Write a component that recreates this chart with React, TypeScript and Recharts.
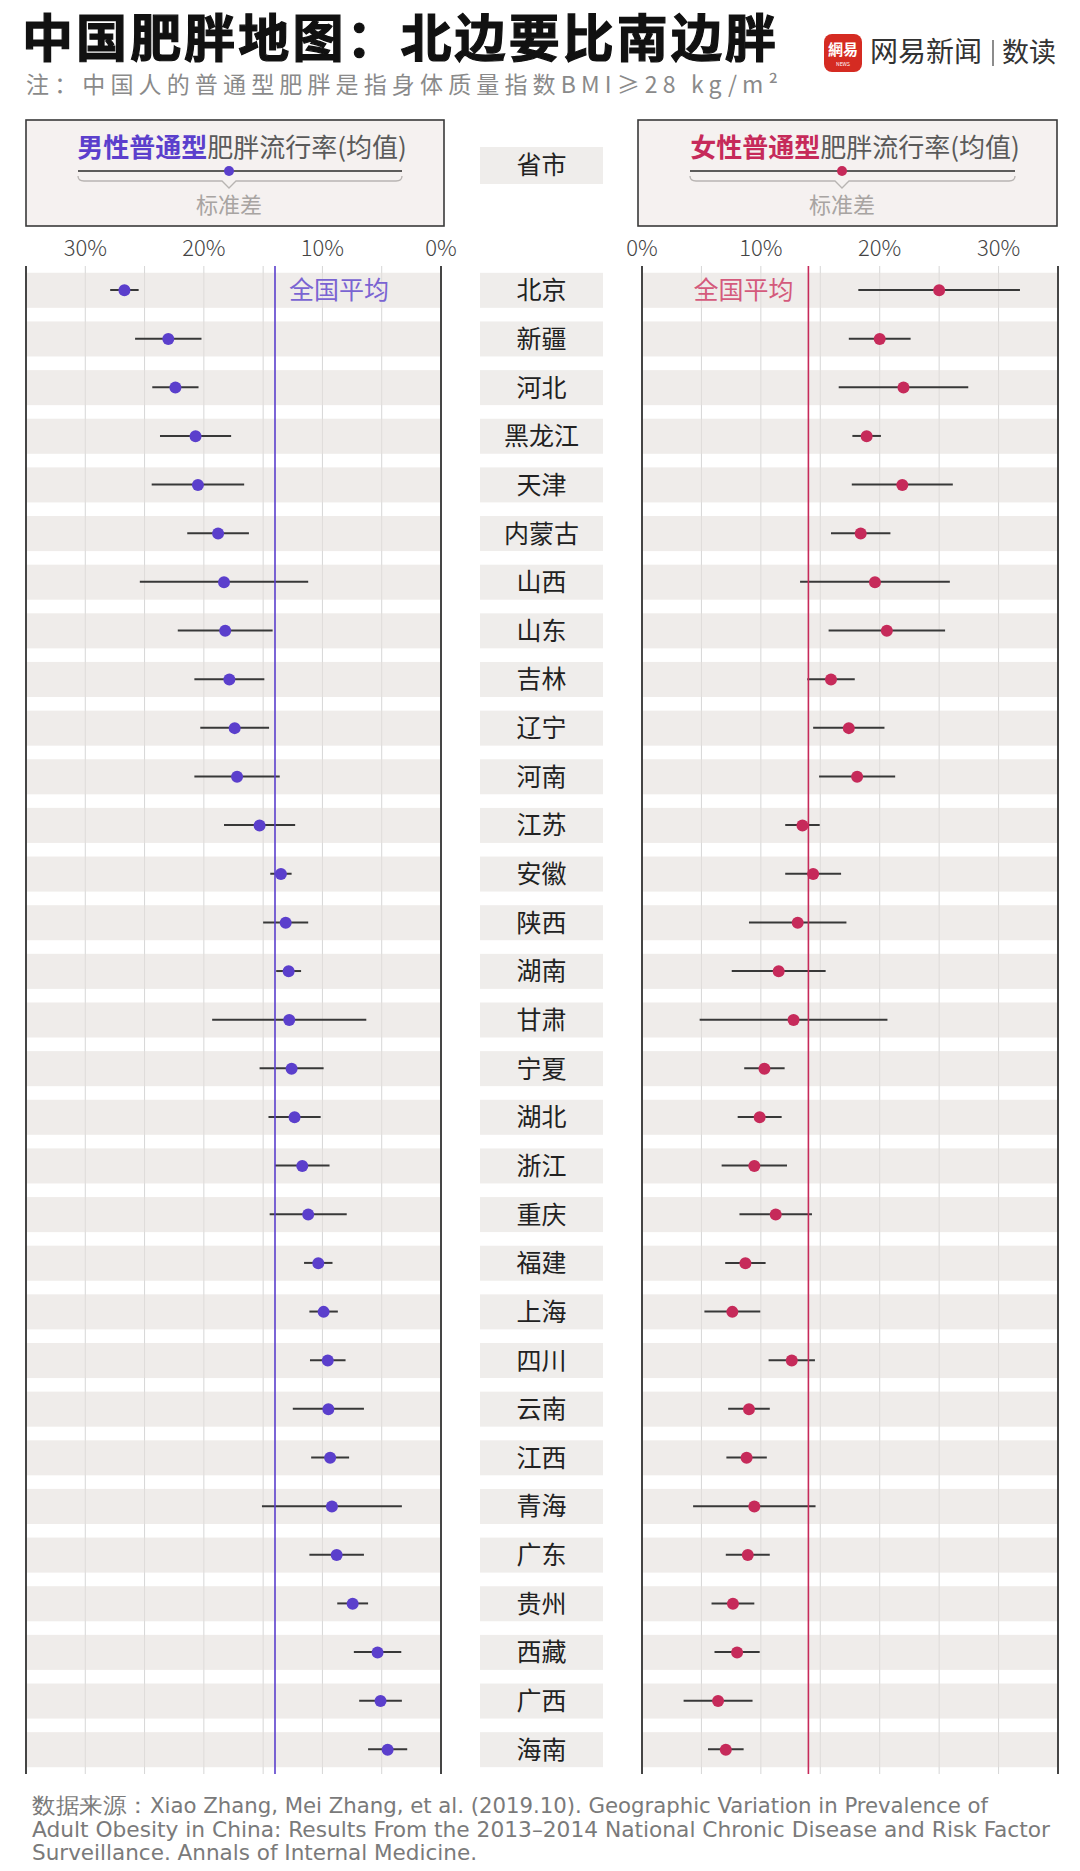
import React from 'react';
import {
  ComposedChart, Bar, Line, XAxis, YAxis, CartesianGrid, ReferenceLine, ReferenceArea,
} from 'recharts';

// ---------- data ----------
const provinces = ['北京', '新疆', '河北', '黑龙江', '天津', '内蒙古', '山西', '山东', '吉林', '辽宁', '河南', '江苏', '安徽', '陕西', '湖南', '甘肃', '宁夏', '湖北', '浙江', '重庆', '福建', '上海', '四川', '云南', '江西', '青海', '广东', '贵州', '西藏', '广西', '海南'];
const maleMean = [26.7, 23.0, 22.4, 20.7, 20.5, 18.8, 18.3, 18.2, 17.85, 17.4, 17.2, 15.3, 13.5, 13.1, 12.85, 12.8, 12.6, 12.35, 11.7, 11.2, 10.35, 9.9, 9.55, 9.5, 9.35, 9.2, 8.8, 7.45, 5.35, 5.1, 4.5];
const maleSd = [1.2, 2.8, 1.95, 3.0, 3.9, 2.6, 7.1, 4.0, 2.95, 2.9, 3.6, 3.0, 0.9, 1.9, 1.05, 6.5, 2.7, 2.2, 2.3, 3.25, 1.2, 1.2, 1.5, 3.0, 1.6, 5.9, 2.3, 1.3, 2.0, 1.8, 1.65];
const femaleMean = [25.0, 20.0, 22.0, 18.9, 21.9, 18.4, 19.6, 20.6, 15.9, 17.4, 18.1, 13.5, 14.4, 13.1, 11.5, 12.75, 10.3, 9.9, 9.45, 11.25, 8.7, 7.6, 12.6, 9.0, 8.8, 9.45, 8.9, 7.65, 8.0, 6.4, 7.05];
const femaleSd = [6.8, 2.6, 5.45, 1.2, 4.25, 2.5, 6.3, 4.9, 2.0, 3.0, 3.2, 1.45, 2.35, 4.1, 3.95, 7.9, 1.7, 1.85, 2.75, 3.05, 1.7, 2.35, 1.95, 1.75, 1.7, 5.15, 1.85, 1.8, 1.9, 2.9, 1.5];
const maleNationalAvg = 14.0;
const femaleNationalAvg = 14.0;
const xTicks = [0, 5, 10, 15, 20, 25, 30, 35];
const xDomain: [number, number] = [0, 35];

const titleText = '中国肥胖地图：北边要比南边胖';
const subtitleText = '注：中国人的普通型肥胖是指身体质量指数BMI≥28 kg/m²';
const sourceLines = [
  '数据来源：Xiao Zhang, Mei Zhang, et al. (2019.10). Geographic Variation in Prevalence of',
  'Adult Obesity in China: Results From the 2013–2014 National Chronic Disease and Risk Factor',
  'Surveillance. Annals of Internal Medicine.',
];

const rows = provinces.map((name, i) => ({
  name,
  male: maleMean[i],
  maleRange: [maleMean[i] - maleSd[i], maleMean[i] + maleSd[i]],
  female: femaleMean[i],
  femaleRange: [femaleMean[i] - femaleSd[i], femaleMean[i] + femaleSd[i]],
}));

// ---------- styles ----------
const CJK = "'Noto Sans CJK SC', 'Noto Sans', sans-serif";
const NARROW = "'Liberation Sans Narrow', 'DejaVu Sans Condensed', 'Noto Sans', sans-serif";
const PURPLE = '#5b3fcc';
const CRIMSON = '#c62a5a';
const BAND = '#e4e0dc';
const CHART_TOP = 212;
const CHART_H = 1562;
const AXIS_H = 54;

const XTick = (props: any) => {
  const { x, y, payload } = props;
  if (payload.value % 10 !== 0) return <g />;
  return (
    <text x={x} y={y - 10} textAnchor="middle" fontSize={22} fill="#444" fontFamily={CJK} fontWeight={300}>
      {payload.value}%
    </text>
  );
};

const bandShape = (p: any) => (
  <rect x={p.x} y={p.y + 6.8} width={p.width} height={Math.max(0, p.height - 13.6)} fill={BAND} fillOpacity={0.6} />
);

const YLabelTick = (props: any) => {
  const { x, y, payload } = props;
  return (
    <g>
      <rect x={x - 162} y={y - 17.5} width={123} height={35} fill="#efedeb" />
      <text x={x - 100.5} y={y + 9} textAnchor="middle" fontSize={25} fill="#222" fontFamily={CJK}>
        {payload.value}
      </text>
    </g>
  );
};

function Panel(props: { side: 'male' | 'female' }) {
  const isMale = props.side === 'male';
  const color = isMale ? PURPLE : CRIMSON;
  const avg = isMale ? maleNationalAvg : femaleNationalAvg;
  return (
    <ComposedChart
      layout="vertical"
      width={isMale ? 460 : 620}
      height={CHART_H}
      data={rows}
      margin={isMale ? { top: 0, right: 19, bottom: 0, left: 26 } : { top: 0, right: 22, bottom: 0, left: 0 }}
    >
      <CartesianGrid horizontal={false} stroke="#d6d6d6" strokeWidth={1} />
      <XAxis
        type="number"
        orientation="top"
        domain={xDomain}
        ticks={xTicks}
        interval={0}
        reversed={isMale}
        axisLine={false}
        tickLine={false}
        tickSize={0}
        tickMargin={0}
        height={AXIS_H}
        tick={<XTick />}
        allowDataOverflow
      />
      {isMale ? (
        <YAxis type="category" dataKey="name" hide />
      ) : (
        <YAxis type="category" dataKey="name" width={182} axisLine={false} tickLine={false} tickSize={0} tickMargin={0} interval={0} tick={<YLabelTick />} />
      )}
      {provinces.map((p) => (
        <ReferenceArea key={p} y1={p} y2={p} shape={bandShape} ifOverflow="visible" />
      ))}
      <ReferenceLine x={0} stroke="#333" strokeWidth={1.8} />
      <ReferenceLine x={35} stroke="#333" strokeWidth={1.8} />
      <ReferenceLine
        x={avg}
        stroke={color}
        strokeWidth={1.6}
        label={(lp: any) => {
          const vb = lp.viewBox || {};
          return isMale ? (
            <text x={vb.x + 14} y={vb.y + 33} fontSize={25} fill="#7a64d2" fontFamily={CJK}>全国平均</text>
          ) : (
            <text x={vb.x - 15} y={vb.y + 33} fontSize={25} fill="#d45a7c" fontFamily={CJK} textAnchor="end">全国平均</text>
          );
        }}
      />
      <Bar dataKey={isMale ? 'maleRange' : 'femaleRange'} barSize={2} fill="#383838" isAnimationActive={false} />
      <Line
        dataKey={isMale ? 'male' : 'female'}
        stroke="none"
        dot={{ r: 6, fill: color, stroke: 'none' }}
        activeDot={false}
        isAnimationActive={false}
      />
    </ComposedChart>
  );
}

function Brace({ x1, x2, mid, y }: { x1: number; x2: number; mid: number; y: number }) {
  const d = `M${x1},${y - 5} Q${x1},${y} ${x1 + 6},${y} L${mid - 7},${y} L${mid},${y + 7} L${mid + 7},${y} L${x2 - 6},${y} Q${x2},${y} ${x2},${y - 5}`;
  return <path d={d} fill="none" stroke="#b8b4b2" strokeWidth={1.3} />;
}

function LegendBox({ x, w, color, bold, mid }: { x: number; w: number; color: string; bold: string; mid: number }) {
  const lx1 = x + 52;
  const lx2 = x + w - 42;
  return (
    <g>
      <rect x={x} y={120} width={w} height={106} fill="#f5f1f0" stroke="#3a3a3a" strokeWidth={1.6} />
      <text x={mid + 13} y={157} textAnchor="middle" fontSize={26} fontFamily={CJK}>
        <tspan fill={color} fontWeight={700}>{bold}</tspan>
        <tspan fill="#5a5a5a">肥胖流行率(均值)</tspan>
      </text>
      <line x1={lx1} x2={lx2} y1={171} y2={171} stroke="#2a2a2a" strokeWidth={1.6} />
      <circle cx={mid} cy={171} r={5} fill={color} />
      <Brace x1={lx1} x2={lx2} mid={mid} y={181} />
      <text x={mid} y={213} textAnchor="middle" fontSize={22} fill="#a8a4a2" fontFamily={CJK}>标准差</text>
    </g>
  );
}

export default function App() {
  return (
    <div style={{ position: 'absolute', left: 0, top: 0, width: 1080, height: 1871, background: '#fff', overflow: 'hidden' }}>
      <svg width={1080} height={1871} style={{ position: 'absolute', left: 0, top: 0 }}>
        <text x={22} y={57} fontSize={51} fontWeight={700} fill="#111" fontFamily={CJK} stroke="#111" strokeWidth={1.2} textLength={754}>
          {titleText}
        </text>
        <text x={26} y={93} fontSize={23} fill="#8a8a8a" fontFamily={CJK} textLength={752}>
          {subtitleText}
        </text>
        {/* logo */}
        <rect x={824} y={34} width={38} height={38} rx={8} fill="#d52b22" />
        <text x={843} y={55} textAnchor="middle" fontSize={15} fill="#fff" fontFamily={CJK} fontWeight={700}>網易</text>
        <text x={843} y={66} textAnchor="middle" fontSize={5} fill="#fff" fontFamily={CJK}>NEWS</text>
        <text x={870} y={62} fontSize={28} fill="#333" fontFamily={CJK}>网易新闻</text>
        <line x1={993} x2={993} y1={40} y2={66} stroke="#666" strokeWidth={1.5} />
        <text x={1002} y={62} fontSize={27} fill="#333" fontFamily={CJK}>数读</text>

        <LegendBox x={26} w={418} color={PURPLE} bold="男性普通型" mid={229} />
        <LegendBox x={638} w={419} color={CRIMSON} bold="女性普通型" mid={842} />

        <rect x={480} y={147} width={123} height={37} fill="#efedeb" />
        <text x={541.5} y={174} textAnchor="middle" fontSize={25} fill="#222" fontFamily={CJK}>省市</text>

        {sourceLines.map((s, i) => (
          <text key={i} x={32} y={1813 + i * 23.5} fontSize={22} fill="#7a7a7a" fontFamily={NARROW}
            textLength={[956, 1018, 445][i]} lengthAdjust="spacingAndGlyphs">
            {s}
          </text>
        ))}
      </svg>
      <div style={{ position: 'absolute', left: 0, top: CHART_TOP }}>
        <Panel side="male" />
      </div>
      <div style={{ position: 'absolute', left: 460, top: CHART_TOP }}>
        <Panel side="female" />
      </div>
    </div>
  );
}
